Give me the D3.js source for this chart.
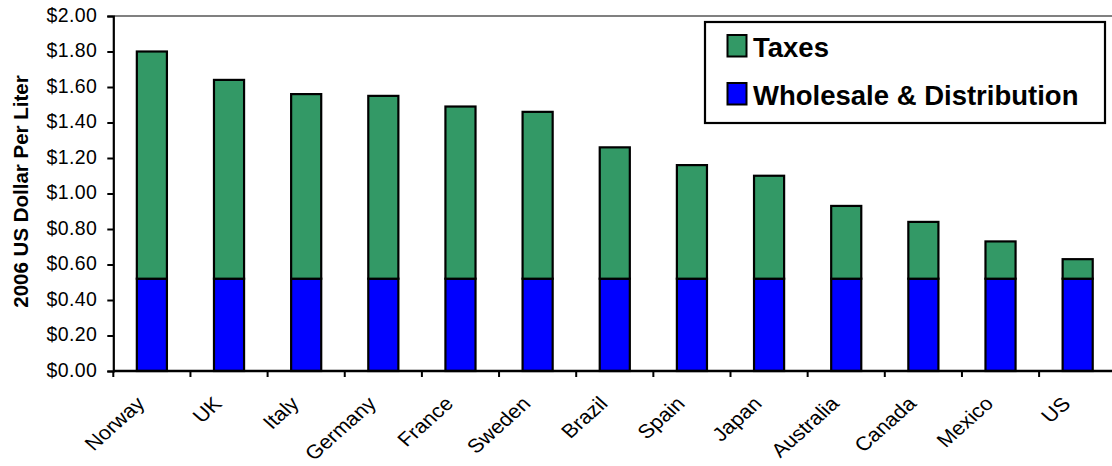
<!DOCTYPE html>
<html><head><meta charset="utf-8">
<script src="https://cdn.jsdelivr.net/npm/d3@7"></script>
<style>body{margin:0;background:#fff}svg{display:block}text{font-family:"Liberation Sans",Arial,sans-serif}</style>
</head><body>
<script>
const categories = ["Norway","UK","Italy","Germany","France","Sweden","Brazil","Spain","Japan","Australia","Canada","Mexico","US"];
const wholesale = [0.52,0.52,0.52,0.52,0.52,0.52,0.52,0.52,0.52,0.52,0.52,0.52,0.52];
const taxes     = [1.28,1.12,1.04,1.03,0.97,0.94,0.74,0.64,0.58,0.41,0.32,0.21,0.11];
const yTicks = [0,0.2,0.4,0.6,0.8,1.0,1.2,1.4,1.6,1.8,2.0];
const seriesNames = ["Wholesale & Distribution","Taxes"];
const colors = {"Wholesale & Distribution":"#0000FF","Taxes":"#339966"};

const W = 1112, H = 466;
const plotLeft = 113.3, step = 77.15, plotTop = 16, plotBottom = 371;
const svg = d3.select("body").append("svg").attr("width",W).attr("height",H);

const x = d3.scaleBand().domain(categories).range([plotLeft, plotLeft + step*categories.length]).padding(0);
const y = d3.scaleLinear().domain([0,2]).range([plotBottom, plotTop]);

const rows = categories.map((c,i)=>({cat:c,"Wholesale & Distribution":wholesale[i],"Taxes":taxes[i]}));
const stacked = d3.stack().keys(seriesNames)(rows);
const barW = x.bandwidth()*0.39;

// top border line (gray)
svg.append("line").attr("x1",plotLeft).attr("x2",W).attr("y1",y(2)).attr("y2",y(2))
  .attr("stroke","#808080").attr("stroke-width",2);

// bars
svg.append("g").selectAll("g").data(stacked).join("g")
  .attr("fill",d=>colors[d.key])
  .selectAll("rect").data(d=>d).join("rect")
  .attr("x",d=>x(d.data.cat)+x.bandwidth()/2-barW/2)
  .attr("width",barW)
  .attr("y",d=>y(d[1]))
  .attr("height",d=>y(d[0])-y(d[1]))
  .attr("stroke","#000").attr("stroke-width",2.2);

// y axis
const ya = svg.append("g").attr("transform",`translate(${plotLeft},0)`)
  .call(d3.axisLeft(y).tickValues(yTicks).tickFormat(d3.format("$.2f")).tickSize(6).tickPadding(10));
ya.select(".domain").attr("stroke","#000").attr("stroke-width",2.2);
ya.selectAll(".tick line").attr("stroke","#000").attr("stroke-width",2);
ya.selectAll(".tick text").attr("font-size","19.5px").attr("fill","#000").attr("font-family","Liberation Sans, Arial, sans-serif").attr("dy","0.27em").attr("letter-spacing","0.4px");

// x axis
svg.append("line").attr("x1",plotLeft).attr("x2",W).attr("y1",plotBottom).attr("y2",plotBottom)
  .attr("stroke","#000").attr("stroke-width",2.6);
const bounds = categories.map(c=>x(c)).concat([x.range()[1]]);
svg.append("g").selectAll("line").data(bounds).join("line")
  .attr("x1",d=>d).attr("x2",d=>d).attr("y1",plotBottom).attr("y2",plotBottom+6)
  .attr("stroke","#000").attr("stroke-width",2);
svg.append("g").selectAll("text").data(categories).join("text")
  .attr("transform",d=>`translate(${x(d)+x.bandwidth()/2-17},${plotBottom+24}) scale(1.12,1) rotate(-45)`)
  .attr("text-anchor","end").attr("dy","0.72em")
  .attr("font-size","19.5px").attr("fill","#000")
  .text(d=>d);

// y title
svg.append("text").attr("transform",`translate(21,191.5) rotate(-90)`)
  .attr("text-anchor","middle").attr("dy","0.36em")
  .attr("font-size","20.5px").attr("font-weight","bold").attr("fill","#000")
  .text("2006 US Dollar Per Liter");

// legend
const lg = svg.append("g");
lg.append("rect").attr("x",705).attr("y",22).attr("width",400).attr("height",101)
  .attr("fill","#fff").attr("stroke","#000").attr("stroke-width",2.2);
const legendItems = ["Taxes","Wholesale & Distribution"];
legendItems.forEach((k,i)=>{
  const yy = 35 + i*48;
  lg.append("rect").attr("x",727.5).attr("y",yy).attr("width",19).attr("height",21.5)
    .attr("fill",colors[k]).attr("stroke","#000").attr("stroke-width",2);
  lg.append("text").attr("x",753).attr("y",yy+21.5).attr("font-size","27.5px")
    .attr("font-weight","bold").attr("fill","#000").text(k);
});
</script>
</body></html>
